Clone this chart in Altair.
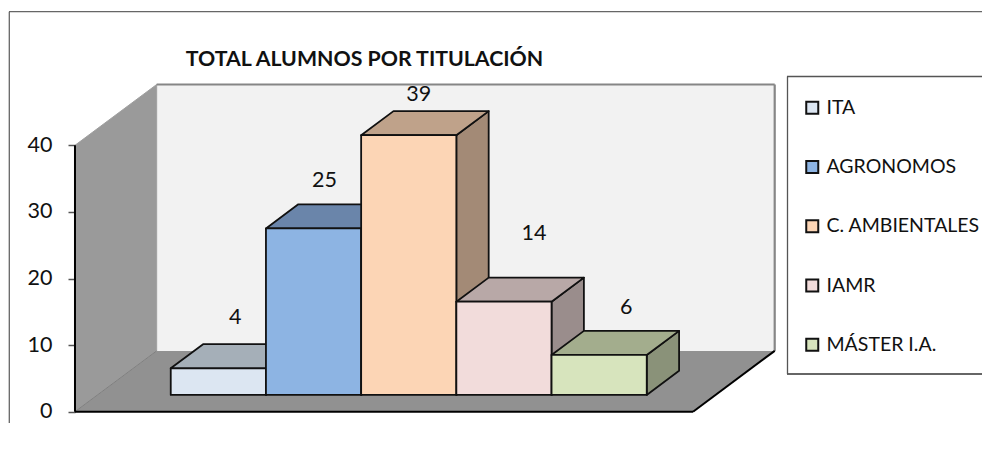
import altair as alt
import pandas as pd

# --- data -------------------------------------------------------------
CATEGORIES = ["ITA", "AGRONOMOS", "C. AMBIENTALES", "IAMR", "MÁSTER I.A."]
VALUES = [4, 25, 39, 14, 6]
AXIS_TICKS = [0, 10, 20, 30, 40]
TITLE = "TOTAL ALUMNOS POR TITULACIÓN"

# --- style ------------------------------------------------------------
FRONT = ["#dce6f2", "#8db4e3", "#fcd5b5", "#f2dcdb", "#d7e4bd"]
TOP = ["#a5afb8", "#6a85aa", "#bfa28a", "#b8a8a7", "#a3ad8d"]
SIDE = ["#959ca5", "#5f7896", "#a38a76", "#9a8d8c", "#8a9279"]
LABEL_NUDGE = [(17, -26), (11, -23), (10, -16), (30, -44), (27, -23)]
FONT = "Lato"
INK = "#111111"

W, H = 974, 434
# one x unit = one category, one y unit = one student
X_PER_CAT, Y_PER_UNIT = 95.2, 6.66
X_ZERO, Y_ZERO = 140.2, 403.7          # drawing-area position of (0, 0)
xscale = alt.Scale(domain=[-X_ZERO / X_PER_CAT, (W - X_ZERO) / X_PER_CAT], nice=False, zero=False)
yscale = alt.Scale(domain=[(Y_ZERO - H) / Y_PER_UNIT, Y_ZERO / Y_PER_UNIT], nice=False, zero=False)

# oblique projection: depth 0 is the front of the floor, depth 1 the back wall
DEPTH_X, DEPTH_Y = 0.858, 9.13
FLOOR_L, FLOOR_R = -0.769, 5.723
AXIS_MAX = 40
BAR_D0, BAR_D1 = 0.276, 0.672


def px(c, d):
    return c + d * DEPTH_X


def py(v, d):
    return v + d * DEPTH_Y


X = lambda f="x": alt.X(f"{f}:Q", scale=xscale, axis=None)
Y = lambda f="y": alt.Y(f"{f}:Q", scale=yscale, axis=None)


def vert_area(points, **mark):
    """points: (x, y_low, y_high)"""
    df = pd.DataFrame(points, columns=["x", "y", "y2"])
    return alt.Chart(df).mark_area(orient="vertical", **mark).encode(
        x=X(), y=Y(), y2="y2:Q"
    )


def horiz_area(points, **mark):
    """points: (y, x_low, x_high)"""
    df = pd.DataFrame(points, columns=["y", "x", "x2"])
    return alt.Chart(df).mark_area(orient="horizontal", **mark).encode(
        y=Y(), x=X(), x2="x2:Q"
    )


def seg(x1, y1, x2, y2, color, width):
    df = pd.DataFrame([{"x": x1, "y": y1, "x2": x2, "y2": y2}])
    return alt.Chart(df).mark_rule(color=color, strokeWidth=width).encode(
        x=X(), y=Y(), x2="x2:Q", y2="y2:Q"
    )


layers = []

# frame of the whole chart and of the legend
def frame(x, x2, y, y2, color, width=1.3):
    return alt.Chart(pd.DataFrame({"a": [0]})).mark_rule(color=color, strokeWidth=width).encode(
        x=alt.value(x), x2=alt.value(x2), y=alt.value(y), y2=alt.value(y2)
    )

# back wall, carrying the value axis
wall_df = pd.DataFrame([{
    "x": px(FLOOR_L, 1), "x2": px(FLOOR_R, 1), "y": py(0, 1), "y2": py(AXIS_MAX, 1)
}])
layers.append(
    alt.Chart(wall_df).mark_rect(fill="#f2f2f2").encode(
        x=X(),
        x2="x2:Q",
        y=alt.Y("y:Q", scale=yscale, axis=alt.Axis(
            values=AXIS_TICKS, offset=-67, domain=False, grid=False, title=None,
            tickColor="#555555", tickSize=7, tickWidth=1.5, labelFont=FONT,
            labelFontSize=21.5, labelColor=INK, labelPadding=16, format="d",
        )),
        y2="y2:Q",
    )
)
# side wall
layers.append(vert_area(
    [(FLOOR_L, py(0, 0), py(AXIS_MAX, 0)), (px(FLOOR_L, 1), py(0, 1), py(AXIS_MAX, 1))],
    color="#9a9a9a", stroke="#a0a0a0", strokeWidth=1,
))
# floor
layers.append(horiz_area(
    [(py(0, 0), FLOOR_L, FLOOR_R), (py(0, 1), px(FLOOR_L, 1), px(FLOOR_R, 1))],
    color="#919191",
))
layers += [
    seg(FLOOR_L, 0, px(FLOOR_L, 1), py(0, 1), "#808080", 1),
    seg(px(FLOOR_L, 1), py(AXIS_MAX, 1), px(FLOOR_R, 1), py(AXIS_MAX, 1), "#868686", 2.2),
    seg(px(FLOOR_R, 1), py(AXIS_MAX, 1), px(FLOOR_R, 1), py(0, 1), "#868686", 2.2),
    seg(FLOOR_L, 0, FLOOR_R, 0, "#000000", 2),
    seg(FLOOR_R, 0, px(FLOOR_R, 1), py(0, 1), "#000000", 2),
    seg(FLOOR_L, 0, FLOOR_L, AXIS_MAX, "#000000", 2),
]

color_scale = alt.Scale(domain=CATEGORIES, range=FRONT)
legend = alt.Legend(
    orient="none", legendX=794.5, legendY=90, title=None, symbolType="square",
    symbolSize=144, symbolStrokeColor=INK, symbolStrokeWidth=2, labelFont=FONT,
    labelFontSize=19.5, labelColor=INK, rowPadding=38.25, labelOffset=4.5,
    padding=0, symbolOpacity=1,
)

# bars, from left to right so that each one hides the side of the previous one
for i, (cat, val) in enumerate(zip(CATEGORIES, VALUES)):
    outline = dict(stroke=INK, strokeWidth=1.8, strokeJoin="round")
    layers.append(vert_area(
        [
            (px(i + 1, BAR_D0), py(0, BAR_D0), py(val, BAR_D0)),
            (px(i + 1, BAR_D1), py(0, BAR_D1), py(val, BAR_D1)),
        ],
        color=SIDE[i], **outline,
    ))
    layers.append(horiz_area(
        [
            (py(val, BAR_D0), px(i, BAR_D0), px(i + 1, BAR_D0)),
            (py(val, BAR_D1), px(i, BAR_D1), px(i + 1, BAR_D1)),
        ],
        color=TOP[i], **outline,
    ))
    front = pd.DataFrame([{
        "cat": cat, "x": px(i, BAR_D0), "x2": px(i + 1, BAR_D0),
        "y": py(0, BAR_D0), "y2": py(val, BAR_D0),
    }])
    layers.append(
        alt.Chart(front).mark_rect(**outline).encode(
            x=X(), x2="x2:Q", y=Y(), y2="y2:Q",
            fill=alt.Fill("cat:N", scale=color_scale, legend=legend),
        )
    )

# data labels
for i, val in enumerate(VALUES):
    df = pd.DataFrame([{
        "x": px(i + 0.5, BAR_D0), "y": py(val, BAR_D1), "label": str(val),
    }])
    dx, dy = LABEL_NUDGE[i]
    layers.append(
        alt.Chart(df).mark_text(font=FONT, fontSize=21.5, color=INK, dx=dx, dy=dy).encode(
            x=X(), y=Y(), text="label:N"
        )
    )

# title and frames
layers.append(
    alt.Chart(pd.DataFrame({"t": [TITLE]})).mark_text(
        font=FONT, fontSize=21.3, fontWeight="bold", color=INK, align="center", baseline="middle"
    ).encode(x=alt.value(356.5), y=alt.value(52), text="t:N")
)
layers += [
    frame(1, W, 3.7, 3.7, "#666666"),
    frame(1.3, 1.3, 3.7, 415, "#666666"),
    frame(779, W, 68.5, 68.5, "#555555"),
    frame(779, W, 366, 366, "#333333"),
    frame(779.5, 779.5, 68.5, 366, "#555555"),
]

chart = alt.layer(*layers).resolve_scale(x="shared", y="shared", fill="shared").resolve_axis(
    y="independent"
).properties(
    width=W, height=H, padding=0, background="white",
    autosize=alt.AutoSizeParams(type="none"),
).configure_view(stroke=None)

chart.save("out.html", embed_options={"renderer": "svg", "actions": False})
